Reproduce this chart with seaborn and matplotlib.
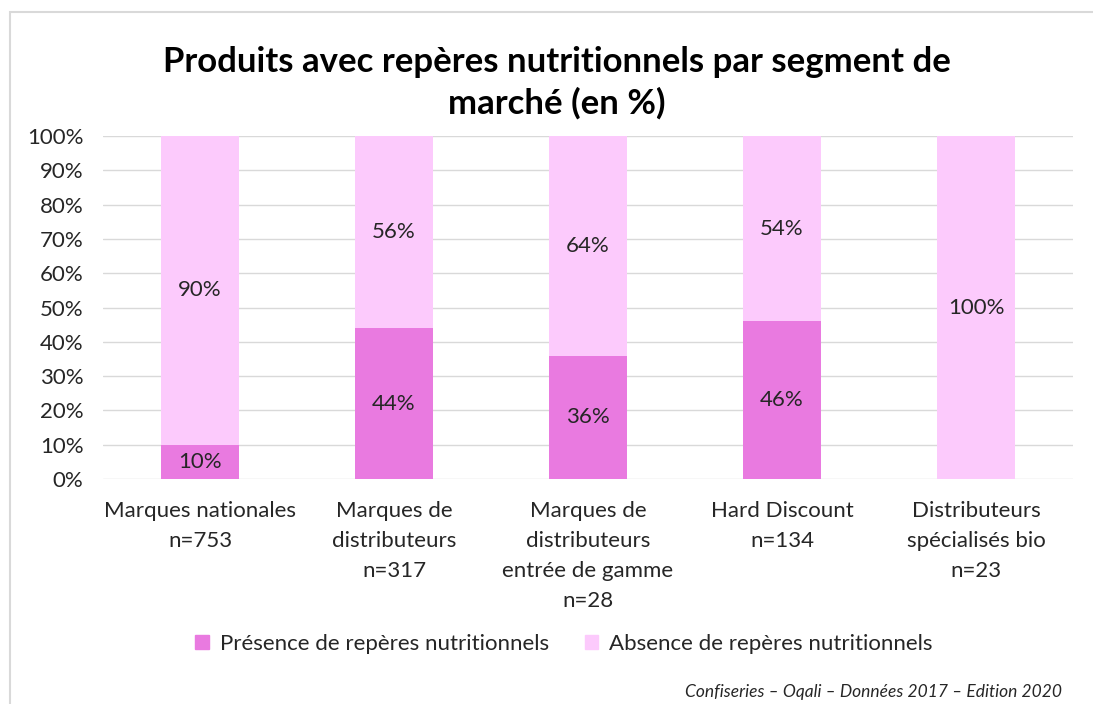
import pandas as pd
import seaborn as sns
import matplotlib.pyplot as plt
from matplotlib.patches import Rectangle, Patch

# data
segments = ["Marques nationales\nn=753",
            "Marques de\ndistributeurs\nn=317",
            "Marques de\ndistributeurs\nentrée de gamme\nn=28",
            "Hard Discount\nn=134",
            "Distributeurs\nspécialisés bio\nn=23"]
presence = [10, 44, 36, 46, 0]
absence = [90, 56, 64, 54, 100]

col_pres = "#E97AE0"
col_abs = "#FCCAFC"
txt = "#262626"

sns.set_theme(style="white")
plt.rcParams['font.family'] = ['Lato', 'DejaVu Sans']

df = pd.DataFrame({"segment": segments, "presence": presence, "absence": absence})
df["total"] = df["presence"] + df["absence"]

fig = plt.figure(figsize=(10.93, 7.04), dpi=100)
ax = fig.add_axes([103 / 1093, 1 - 479 / 704, (1073 - 103) / 1093, (479 - 136) / 704])

# stacked bars: full height in light pink, presence on top of it
sns.barplot(data=df, x="segment", y="total", color=col_abs, width=0.4,
            saturation=1, ax=ax, zorder=2)
sns.barplot(data=df, x="segment", y="presence", color=col_pres, width=0.4,
            saturation=1, ax=ax, zorder=3)
for p in ax.patches:
    p.set_edgecolor("none")

# labels
for i, (p, a) in enumerate(zip(presence, absence)):
    if p > 0:
        ax.text(i, p / 2, f"{p}%", ha="center", va="center", fontsize=16, color=txt, zorder=4)
    if a > 0:
        ax.text(i, p + a / 2, f"{a}%", ha="center", va="center", fontsize=16, color=txt, zorder=4)

ax.set_xlim(-0.5, 4.5)
ax.set_ylim(0, 100)
ax.set_yticks(range(0, 101, 10))
ax.set_yticklabels([f"{v}%" for v in range(0, 101, 10)], fontsize=16, color=txt)
ax.tick_params(axis="x", labelsize=16, labelcolor=txt, pad=16, length=0)
ax.tick_params(axis="y", length=0, pad=14)
for lbl in ax.get_xticklabels():
    lbl.set_linespacing(1.62)
ax.set_xlabel("")
ax.set_ylabel("")
ax.grid(axis="y", color="#D9D9D9", linewidth=1, zorder=0)
ax.set_axisbelow(True)
for s in ax.spines.values():
    s.set_visible(False)

fig.text(557 / 1093, 1 - 83 / 704,
         "Produits avec repères nutritionnels par segment de\nmarché (en %)",
         ha="center", va="center", fontsize=25, fontweight="bold", linespacing=1.35,
         color="black")

handles = [Patch(color=col_pres, label="Présence de repères nutritionnels"),
           Patch(color=col_abs, label="Absence de repères nutritionnels")]
fig.legend(handles=handles, loc="center", bbox_to_anchor=(564 / 1093, 1 - 644 / 704),
           ncol=2, frameon=False, fontsize=16, handlelength=0.6, handleheight=0.6,
           columnspacing=1.6, handletextpad=0.5, labelcolor=txt)

fig.text(1062 / 1093, 1 - 692 / 704, "Confiseries – Oqali – Données 2017 – Edition 2020",
         ha="right", va="center", fontsize=12.5, style="italic", color=txt)

# outer chart border
fig.patches.append(Rectangle((10 / 1093, -0.05), 1.2, 1 - 12 / 704 + 0.05,
                             transform=fig.transFigure, fill=False,
                             edgecolor="#D9D9D9", linewidth=1.5))

fig.savefig("out.png", dpi=100)
